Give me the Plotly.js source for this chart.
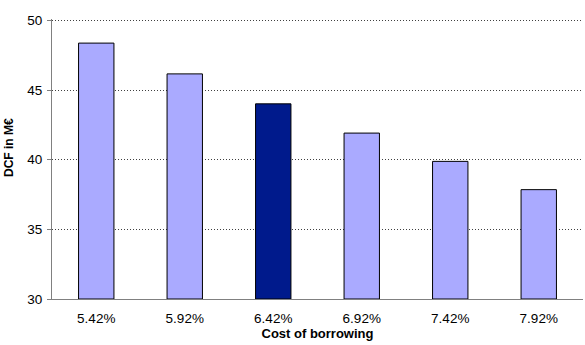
<!DOCTYPE html>
<html>
<head>
<meta charset="utf-8">
<script src="https://cdn.plot.ly/plotly-3.0.1.min.js"></script>
<style>html,body{margin:0;padding:0;background:#fff;}#chart{width:585px;height:345px;}</style>
</head>
<body>
<div id="chart"></div>
<script>
const categories = ["5.42%", "5.92%", "6.42%", "6.92%", "7.42%", "7.92%"];
const dcfValues = [48.37, 46.16, 44.01, 41.91, 39.88, 37.85];
const highlightIndex = 2;
const yTicks = [30, 35, 40, 45, 50];

const colors = categories.map((c, i) => i === highlightIndex ? "#001A8C" : "#AAAAFF");

const trace = {
  type: "bar",
  x: categories,
  y: dcfValues.map(v => v - 30),
  base: 30,
  marker: { color: colors, line: { color: "#000000", width: 1 } },
  hoverinfo: "none"
};

const layout = {
  width: 585,
  height: 345,
  margin: { l: 52, r: 2, t: 19, b: 46 },
  paper_bgcolor: "#ffffff",
  plot_bgcolor: "#ffffff",
  showlegend: false,
  bargap: 0.6,
  font: { family: "Liberation Sans, Arial, sans-serif", size: 13, color: "#000000" },
  xaxis: {
    type: "category",
    showgrid: false,
    zeroline: false,
    showline: true,
    mirror: false,
    linecolor: "#808080",
    linewidth: 1,
    ticks: "",
    ticklabelstandoff: 7,
    tickfont: { size: 13.5, color: "#000000" },
    title: { text: "<b>Cost of borrowing</b>", font: { size: 13, color: "#000000" }, standoff: 2 }
  },
  yaxis: {
    range: [30, 50.1],
    tickvals: yTicks,
    showgrid: true,
    gridcolor: "#404040",
    griddash: "1px,2px",
    gridwidth: 1,
    zeroline: false,
    showline: true,
    mirror: false,
    linecolor: "#808080",
    linewidth: 1,
    ticks: "outside",
    ticklen: 4,
    tickcolor: "#808080",
    ticklabelstandoff: 2,
    tickfont: { size: 13.5, color: "#000000" }
  },
  annotations: [{
    text: "<b>DCF in M€</b>",
    xref: "paper", yref: "paper",
    x: -52/531, xanchor: "left",
    y: (299 - 148) / 280, yanchor: "middle",
    textangle: -90,
    showarrow: false,
    font: { size: 12, color: "#000000" }
  }]
};

Plotly.newPlot("chart", [trace], layout, { staticPlot: true, displayModeBar: false });
</script>
</body>
</html>
